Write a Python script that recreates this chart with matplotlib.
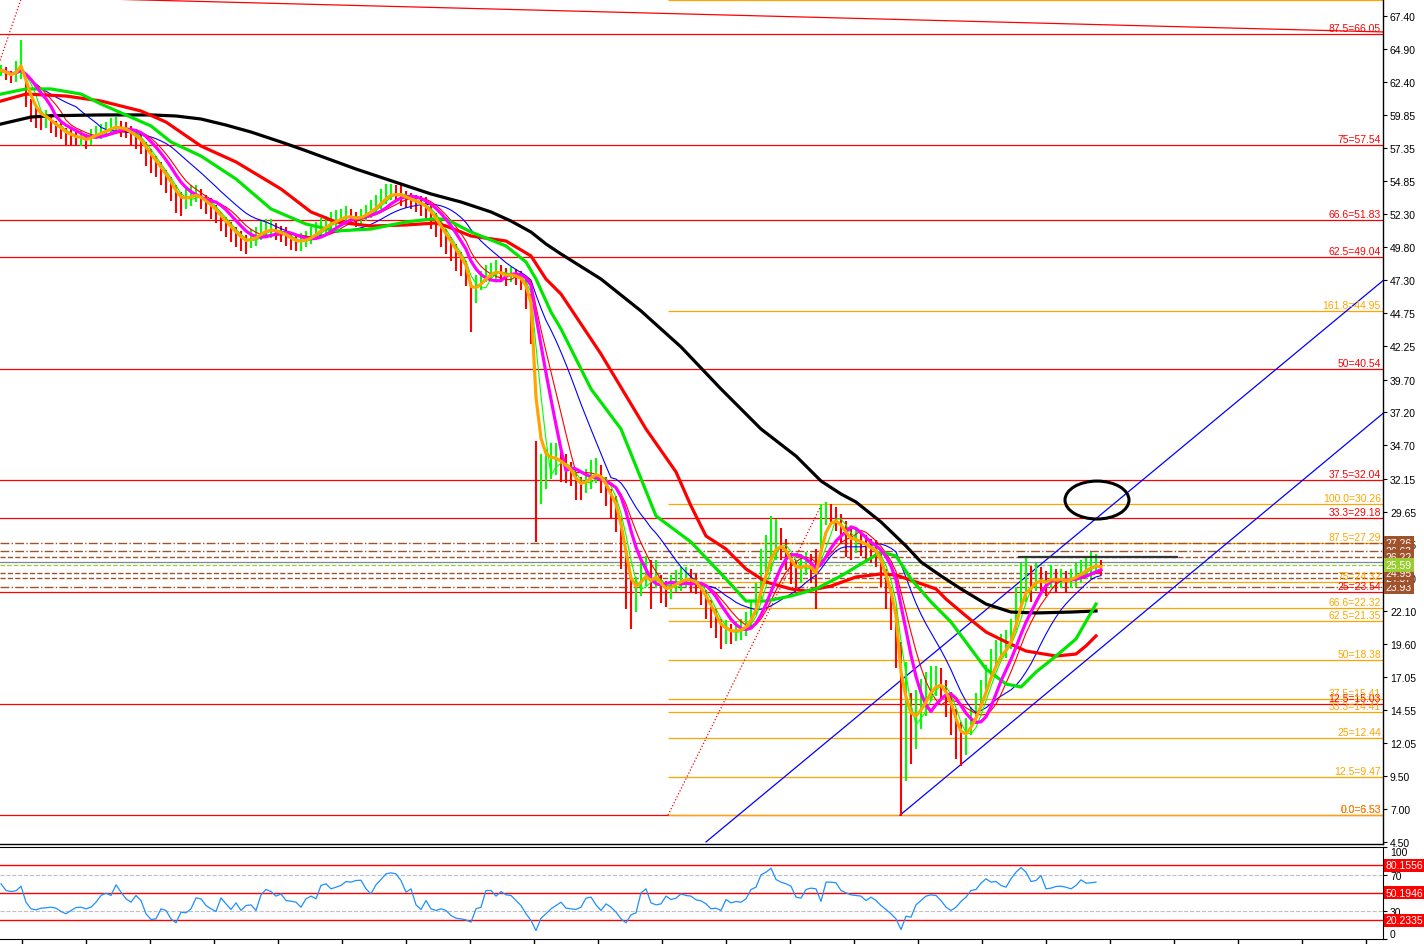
import numpy as np
import pandas as pd
import matplotlib
matplotlib.use('Agg')
import matplotlib.pyplot as plt
from matplotlib.patches import Ellipse

plt.rcParams['font.family'] = ['Liberation Sans', 'DejaVu Sans']

#%% price bars (one bar every ~5 px)
lows = [62.8, 62.5, 62.3, 62.4, 62.6, 60.5, 59.3, 58.9, 58.7, 58.9,
        58.5, 58.2, 58.0, 57.6, 57.6, 57.5, 57.5, 57.3, 57.6, 58.0,
        58.0, 58.3, 58.3, 58.5, 58.2, 58.1, 57.6, 57.3, 56.9, 56.0,
        55.4, 55.1, 54.5, 53.9, 53.3, 52.4, 52.2, 52.7, 52.9, 53.2,
        52.7, 52.3, 51.9, 51.6, 51.0, 50.6, 50.2, 49.8, 49.5, 49.3,
        49.7, 49.9, 50.3, 50.5, 50.5, 50.3, 50.2, 49.9, 49.6, 49.5,
        49.5, 49.8, 50.0, 50.3, 50.6, 50.9, 51.1, 51.2, 51.5, 51.6,
        51.5, 51.3, 51.5, 51.8, 52.0, 52.3, 52.7, 53.1, 53.4, 53.2,
        52.9, 52.8, 52.7, 52.5, 52.2, 51.8, 51.2, 50.6, 49.8, 49.3,
        48.7, 48.0, 47.6, 46.8, 43.3, 45.5, 46.5, 47.1, 47.4, 47.4,
        47.1, 46.8, 47.1, 46.9, 46.5, 45.1, 42.4, 27.3, 30.2, 31.4,
        32.1, 32.4, 31.9, 31.8, 31.6, 30.5, 30.5, 31.1, 31.4, 31.8,
        31.1, 30.1, 29.1, 28.1, 25.3, 22.2, 20.7, 22.0, 23.2, 24.0,
        22.2, 23.8, 22.7, 22.4, 23.0, 23.5, 23.6, 23.9, 23.5, 23.4,
        22.5, 21.5, 20.8, 20.0, 19.2, 19.6, 19.6, 19.8, 19.9, 20.2,
        20.8, 21.8, 23.0, 24.1, 25.1, 26.0, 26.0, 25.2, 24.1, 23.8,
        24.2, 24.8, 24.2, 22.2, 26.4, 28.6, 28.7, 28.2, 27.2, 26.2,
        26.0, 26.5, 26.3, 26.0, 25.7, 25.4, 23.9, 22.2, 20.6, 17.7,
        6.5, 9.1, 10.4, 11.6, 13.1, 14.1, 15.2, 15.6, 15.4, 14.0,
        12.6, 10.8, 10.3, 11.1, 12.6, 13.5, 14.7, 15.8, 16.9, 17.7,
        18.4, 18.5, 19.2, 20.6, 21.9, 22.8, 22.8, 23.6, 23.6, 23.2,
        23.8, 23.5, 23.8, 23.5, 23.8, 23.9, 24.2, 24.5, 24.6, 24.9,
        24.8]
highs = [63.7, 63.5, 63.2, 64.0, 65.6, 62.4, 61.1, 60.5, 60.1, 60.2,
         59.9, 59.4, 59.3, 58.9, 58.8, 58.6, 58.7, 58.4, 58.8, 59.0,
         59.2, 59.3, 59.6, 59.7, 59.4, 59.3, 59.0, 58.8, 58.4, 57.8,
         57.3, 56.7, 56.3, 55.7, 55.1, 54.5, 54.0, 54.2, 54.5, 54.5,
         54.2, 53.8, 53.5, 53.0, 52.5, 52.1, 51.7, 51.3, 51.0, 50.7,
         51.2, 51.3, 51.8, 51.9, 51.9, 51.6, 51.4, 51.3, 50.9, 50.7,
         50.9, 51.0, 51.3, 51.7, 52.0, 52.2, 52.5, 52.6, 52.7, 52.9,
         52.7, 52.5, 52.7, 53.0, 53.4, 53.8, 54.2, 54.6, 54.6, 54.5,
         54.6, 54.1, 53.9, 53.8, 53.7, 53.6, 53.0, 52.4, 51.8, 51.2,
         50.6, 50.0, 49.4, 48.7, 47.1, 47.7, 48.0, 48.4, 48.6, 48.8,
         48.4, 48.2, 48.3, 48.1, 48.0, 47.4, 46.2, 35.0, 34.0, 34.4,
         34.9, 34.9, 34.6, 34.0, 33.4, 32.6, 32.3, 32.9, 33.6, 33.7,
         33.2, 32.3, 31.4, 30.8, 29.1, 26.8, 24.5, 24.7, 25.9, 26.3,
         26.0, 26.0, 24.8, 24.4, 24.8, 25.2, 25.4, 25.4, 25.3, 24.9,
         24.3, 23.7, 22.9, 22.2, 21.5, 21.4, 21.1, 21.3, 21.5, 22.0,
         22.9, 24.2, 26.8, 27.9, 29.3, 29.1, 28.4, 27.6, 26.5, 26.0,
         26.4, 26.6, 26.4, 26.8, 30.2, 30.4, 30.2, 30.0, 29.5, 28.9,
         28.3, 28.3, 28.1, 27.9, 27.6, 27.5, 26.6, 25.3, 23.9, 22.2,
         19.7, 18.2, 15.8, 16.1, 16.9, 17.4, 17.9, 17.9, 17.7, 16.8,
         15.9, 14.6, 13.6, 13.9, 14.8, 15.8, 16.8, 18.0, 19.2, 19.9,
         20.3, 20.6, 21.5, 23.9, 25.7, 26.2, 25.5, 25.7, 25.4, 25.1,
         25.6, 25.3, 25.3, 25.1, 25.3, 25.7, 26.0, 26.3, 26.6, 26.4,
         26.0]

#%% slow moving averages (bar index, value)
black_x = [0, 6, 10, 20, 30, 35, 40, 45, 50, 56, 60, 71, 80, 86, 92, 98, 102, 106, 109,
           112, 120, 128, 136, 144, 152, 159, 164, 168, 171, 176, 181, 184, 188, 192,
           197, 202, 207, 214, 219]
black_v = [59.17, 59.70, 59.80, 59.86, 59.86, 59.78, 59.55, 59.09, 58.56, 57.80, 57.27,
           55.74, 54.60, 53.84, 53.23, 52.47, 51.78, 50.94, 50.03, 49.27, 47.36, 44.93,
           42.19, 38.99, 35.94, 33.88, 31.98, 30.99, 30.38, 28.86, 27.03, 25.81, 24.75,
           23.76, 22.61, 22.00, 21.93, 22.00, 22.08]
red_x = [0, 5, 13, 20, 28, 33, 40, 47, 56, 62, 67, 74, 81, 87, 89, 94, 101, 106, 109, 112,
         120, 129, 135, 138, 141, 145, 149, 153, 158, 161, 166, 171, 176, 179, 183, 187,
         189, 193, 197, 201, 205, 211, 215, 217, 219]
red_v = [60.92, 61.45, 61.30, 60.92, 60.16, 59.32, 57.49, 56.28, 54.22, 52.47, 51.71, 51.40,
         51.48, 51.63, 51.40, 50.64, 50.26, 49.12, 47.36, 46.22, 41.65, 35.94, 32.67, 30.08,
         27.79, 26.80, 25.28, 24.29, 23.76, 23.60, 23.98, 24.67, 24.90, 24.82, 24.29, 23.76,
         22.99, 21.70, 20.48, 19.72, 19.03, 18.65, 18.80, 19.42, 20.18]
green_x = [0, 5, 10, 16, 20, 30, 34, 40, 47, 54, 61, 67, 74, 81, 86, 89, 94, 101, 105, 107,
           110, 112, 118, 124, 131, 138, 145, 149, 153, 158, 163, 168, 173, 176, 179, 182,
           186, 190, 194, 197, 201, 204, 207, 211, 215, 219]
green_v = [61.45, 61.84, 61.84, 61.45, 60.69, 59.02, 57.80, 56.73, 54.98, 52.70, 51.55,
           51.02, 51.17, 51.71, 51.93, 51.93, 50.94, 49.88, 48.66, 47.36, 44.85, 43.56,
           38.99, 35.94, 29.32, 27.33, 24.52, 22.84, 22.84, 23.22, 23.76, 24.75, 25.89,
           26.57, 26.27, 24.52, 22.77, 21.24, 19.19, 17.66, 16.52, 16.29, 17.43, 18.65,
           19.95, 22.61]

#%% RSI values (one per bar)
rsi = [60.0, 52.7, 51.6, 52.4, 57.4, 40.0, 32.8, 31.7, 33.5, 33.9,
       34.6, 33.5, 29.9, 27.4, 31.0, 34.2, 34.6, 32.8, 34.6, 40.0,
       47.3, 49.8, 47.3, 58.9, 50.9, 43.7, 40.0, 47.3, 41.8, 27.4,
       21.2, 21.9, 32.8, 31.0, 21.9, 17.6, 29.2, 28.4, 32.8, 44.7,
       43.7, 36.4, 32.8, 29.9, 44.7, 38.2, 32.1, 39.3, 31.0, 36.4,
       37.1, 31.0, 48.0, 53.8, 51.6, 46.6, 49.1, 41.8, 41.1, 40.0,
       34.6, 43.7, 46.6, 43.7, 58.2, 60.0, 54.5, 56.3, 58.2, 62.5,
       61.8, 63.6, 63.9, 54.5, 49.1, 58.9, 64.7, 70.8, 71.9, 70.8,
       63.6, 50.9, 54.5, 37.1, 32.1, 41.8, 32.8, 31.0, 32.8, 31.0,
       25.5, 22.6, 21.9, 20.8, 18.3, 32.8, 34.6, 52.7, 52.7, 46.6,
       51.6, 48.0, 47.3, 41.8, 36.4, 27.4, 20.1, 9.2, 22.6, 27.4,
       32.8, 36.4, 40.0, 33.5, 32.8, 32.1, 34.6, 44.4, 45.5, 37.1,
       31.0, 38.2, 34.6, 29.2, 21.9, 17.6, 26.3, 28.4, 50.2, 54.5,
       39.3, 37.1, 38.2, 46.6, 42.9, 44.4, 49.1, 47.3, 46.6, 42.6,
       41.5, 38.2, 32.8, 33.5, 31.0, 42.9, 39.3, 40.8, 40.0, 43.7,
       53.8, 56.3, 69.7, 72.6, 77.0, 64.7, 61.8, 60.0, 57.4, 45.5,
       44.4, 53.8, 55.3, 54.5, 40.8, 61.8, 61.8, 61.1, 52.7, 50.2,
       48.0, 47.3, 46.6, 41.8, 45.5, 41.8, 36.4, 32.1, 27.4, 21.9,
       10.3, 24.8, 23.7, 37.1, 41.8, 46.6, 48.0, 47.3, 41.8, 34.6,
       31.0, 34.6, 40.8, 45.5, 52.7, 53.8, 60.7, 65.4, 61.8, 62.5,
       58.2, 56.3, 65.4, 72.6, 77.7, 72.6, 62.5, 63.6, 69.0, 54.5,
       55.3, 57.1, 57.4, 56.3, 54.5, 58.2, 64.3, 60.7, 61.1, 61.8]
rsi_levels = [80.1556, 50.1946, 20.2335]

#%% drawn objects
red_fib_lvl = ['87.5', '75', '66.6', '62.5', '50', '37.5', '33.3', '25', '12.5', '0.0']
red_fib_val = [66.05, 57.54, 51.83, 49.04, 40.54, 32.04, 29.18, 23.54, 15.03, 6.53]
org_fib_lvl = ['261.8', '161.8', '100.0', '87.5', '75', '66.6', '62.5', '50', '37.5',
               '33.3', '25', '12.5', '0.0']
org_fib_val = [68.65, 44.95, 30.26, 27.29, 24.32, 22.32, 21.35, 18.38, 15.41, 14.41,
               12.44, 9.47, 6.53]
org_fib_start = 133.4
pivot_val = [27.26, 26.63, 26.22, 24.95, 24.57, 23.93]
pivot_style = ['-.', '-.', '--', '--', '--', '-.']
bid = 25.59
ask_line = 25.83
# trend lines as (bar, price) anchor pairs
trend_top = [(20.8, 68.69), (276.4, 66.18)]
trend_dot_left = [(-1.0, 63.1), (5.0, 69.8)]
trend_dot_fib = [(133.4, 6.53), (164.2, 30.26)]
chan_upper = [(141.0, 4.49), (276.4, 47.24)]
chan_lower = [(179.8, 6.53), (276.4, 37.13)]
circle = (219.2, 30.53, 12.8, 2.89)
hline_seg = (203.4, 235.4, 26.22)

yticks = [67.40, 64.90, 62.40, 59.85, 57.35, 54.85, 52.30, 49.80, 47.30, 44.75, 42.25,
          39.70, 37.20, 34.70, 32.15, 29.65, 27.15, 24.60, 22.10, 19.60, 17.05, 14.55,
          12.05, 9.50, 7.00, 4.50]

#%% figure
W, H = 1424, 945
fig = plt.figure(figsize=(W / 100, H / 100), dpi=100)
ax = fig.add_axes([0, 1 - 845 / H, 1383 / W, 845 / H])
ax2 = fig.add_axes([0, 5 / H, 1383 / W, 92 / H])

xlim = (-0.2, 276.4)
n = len(lows)
x = np.arange(n)
lo = np.array(lows)
hi = np.array(highs)
mid = (lo + hi) / 2
up = np.r_[True, np.diff(mid) >= 0]
bar_col = np.where(up, '#00FF00', '#FF0000')
fs = 7.5

# horizontal fib lines
for lvl, v in zip(red_fib_lvl, red_fib_val):
    ax.axhline(v, color='#FF0000', lw=0.9, zorder=1)
    ax.text(0.9985, v + 0.08, f'{lvl}={v:.2f}', transform=ax.get_yaxis_transform(),
            ha='right', va='bottom', color='#FF0000', fontsize=fs, zorder=6)
for lvl, v in zip(org_fib_lvl, org_fib_val):
    ax.hlines(v, org_fib_start, xlim[1], color='#FFA500', lw=0.9, zorder=1)
    if lvl != '261.8':
        ax.text(0.9985, v + 0.08, f'{lvl}={v:.2f}', transform=ax.get_yaxis_transform(),
                ha='right', va='bottom', color='#FFA500', fontsize=fs, zorder=6)

for v, ls in zip(pivot_val, pivot_style):
    ax.axhline(v, color='#A0522D', lw=1.0, ls=ls, zorder=1)
ax.axhline(ask_line, color='#778899', lw=0.9, zorder=1)
ax.axhline(bid, color='#9ACD32', lw=0.9, ls='--', zorder=1)

# trend lines / channel
for pts, col, ls in [(trend_top, '#FF0000', '-'), (trend_dot_left, '#FF0000', ':'),
                     (trend_dot_fib, '#FF0000', ':'), (chan_upper, '#0000FF', '-'),
                     (chan_lower, '#0000FF', '-')]:
    (x0, y0), (x1, y1) = pts
    ax.plot([x0, x1], [y0, y1], color=col, ls=ls, lw=0.9, zorder=2)

# bars
ax.vlines(x, lo, hi, colors=bar_col, lw=1.5, zorder=2.5)

# fast moving averages on median price
s = pd.Series(mid)
ax.plot(x, s.rolling(16, min_periods=1).mean(), color='#0000FF', lw=0.8, zorder=3)
ax.plot(x, s.rolling(9, min_periods=1).mean(), color='#FF0000', lw=0.8, zorder=3)
ax.plot(x, s.rolling(4, min_periods=1).mean(), color='#00FF00', lw=0.8, zorder=3)
ax.plot(x, s.rolling(7, min_periods=1).mean(), color='#FF00FF', lw=2.3, zorder=3.1)
ax.plot(x, s.ewm(span=3, adjust=False).mean(), color='#FFA500', lw=2.3, zorder=3.2)

# slow moving averages
ax.plot(black_x, black_v, color='black', lw=2.3, zorder=3)
ax.plot(red_x, red_v, color='#FF0000', lw=2.3, zorder=3)
ax.plot(green_x, green_v, color='#00E600', lw=2.3, zorder=3)

# marks
ax.hlines(hline_seg[2], hline_seg[0], hline_seg[1], color='#333333', lw=1.6, zorder=4)
cx, cy, cw, ch = circle
ax.add_patch(Ellipse((cx, cy), cw, ch, fill=False, ec='black', lw=2.2, zorder=4))

ax.set_xlim(*xlim)
ax.set_ylim(68.69 - 845 / 13.13, 68.69)
ax.yaxis.tick_right()
ax.set_yticks(yticks)
ax.set_yticklabels([f'{t:.2f}' for t in yticks])
ax.tick_params(axis='y', direction='out', length=3, pad=2, labelsize=fs, width=0.8)
ax.set_xticks([])
for sp in ['left', 'top']:
    ax.spines[sp].set_visible(False)
ax.spines['right'].set_linewidth(1.0)
ax.spines['bottom'].set_linewidth(1.0)

# price boxes on the axis
box_order = [27.26, 26.63, 26.22, 23.93, 24.57, 24.95]
for v in box_order:
    ax.text(1.002, v, f'{v:.2f}', transform=ax.get_yaxis_transform(), ha='left',
            va='center', fontsize=fs, color='white', zorder=10, clip_on=False,
            bbox=dict(boxstyle='square,pad=0.2', fc='#A0522D', ec='none'))
ax.text(1.002, bid, f'{bid:.2f}', transform=ax.get_yaxis_transform(), ha='left',
        va='center', fontsize=fs, color='white', zorder=11, clip_on=False,
        bbox=dict(boxstyle='square,pad=0.2', fc='#9ACD32', ec='none'))

#%% RSI panel
ax2.plot(np.arange(len(rsi)), rsi, color='#1E90FF', lw=0.9, zorder=3)
for v in rsi_levels:
    ax2.axhline(v, color='#FF0000', lw=1.0, zorder=2)
    ax2.text(1.002, v, f'{v:.4f}', transform=ax2.get_yaxis_transform(), ha='left',
             va='center', fontsize=fs, color='white', zorder=10, clip_on=False,
             bbox=dict(boxstyle='square,pad=0.15', fc='#FF0000', ec='none'))
for v in [70, 30]:
    ax2.axhline(v, color='#C0C0C0', lw=0.8, ls='--', zorder=1)
ax2.set_xlim(*xlim)
ax2.set_ylim(0, 100)
ax2.yaxis.tick_right()
ax2.set_yticks([0, 30, 70, 100])
ax2.set_yticklabels(['0', '30', '70', '100'])
ax2.tick_params(axis='y', direction='out', length=3, pad=2, labelsize=fs, width=0.8)
for lab in ax2.get_yticklabels():
    if lab.get_text() == '100':
        lab.set_va('top')
    elif lab.get_text() == '0':
        lab.set_va('bottom')
xt = np.arange(4.2, 276, 12.8)
ax2.set_xticks(xt)
ax2.set_xticklabels([])
ax2.tick_params(axis='x', direction='out', length=4, width=1.0)
ax2.spines['left'].set_visible(False)

fig.savefig('out.png', dpi=100, facecolor='white')
